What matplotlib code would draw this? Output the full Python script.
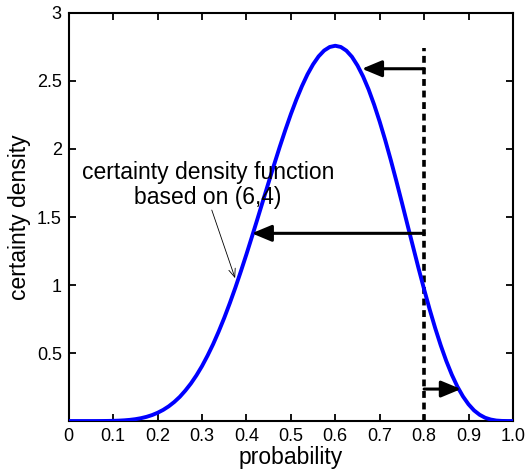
import matplotlib.pyplot as plt

plt.rcParams['font.family'] = ['Liberation Sans', 'DejaVu Sans']

# certainty density curve (step 0.0125)
prob = [i * 0.0125 for i in range(81)]
density = [0.0, 0.0, 0.0, 0.0, 0.0, 0.0001, 0.0003, 0.0007,
           0.0015, 0.0029, 0.0052, 0.0086, 0.0137, 0.0209, 0.0307, 0.0437,
           0.0606, 0.0818, 0.108, 0.140, 0.178, 0.224, 0.276, 0.336,
           0.404, 0.481, 0.565, 0.658, 0.758, 0.866, 0.980, 1.101,
           1.226, 1.356, 1.488, 1.622, 1.755, 1.887, 2.016, 2.139,
           2.256, 2.364, 2.462, 2.549, 2.622, 2.681, 2.724, 2.750,
           2.759, 2.750, 2.723, 2.678, 2.614, 2.534, 2.438, 2.326,
           2.201, 2.065, 1.919, 1.765, 1.606, 1.444, 1.283, 1.123,
           0.969, 0.821, 0.683, 0.556, 0.441, 0.340, 0.253, 0.181,
           0.123, 0.078, 0.046, 0.024, 0.011, 0.0036, 0.0008, 0.0001, 0.0]

# vertical threshold and horizontal arrows
threshold = 0.8
threshold_top = 2.74
arrow_y = [2.59, 1.38, 0.235]
arrow_tip = [0.66, 0.412, 0.883]

xticks = [0, 0.1, 0.2, 0.3, 0.4, 0.5, 0.6, 0.7, 0.8, 0.9, 1.0]
xtick_labels = ['0', '0.1', '0.2', '0.3', '0.4', '0.5', '0.6', '0.7', '0.8', '0.9', '1.0']
yticks = [0.5, 1, 1.5, 2, 2.5, 3]
ytick_labels = ['0.5', '1', '1.5', '2', '2.5', '3']

fig = plt.figure(figsize=(5.25, 4.72), dpi=100)
ax = fig.add_axes([0.131, 0.108, 0.846, 0.8645])

ax.plot(prob, density, color=(0, 0, 1), lw=2.8, solid_joinstyle='round', zorder=3)
ax.plot([threshold, threshold], [0, threshold_top], color='k', lw=2.6,
        linestyle=(0, (1.9, 1.3)), zorder=2)

for y, tip in zip(arrow_y, arrow_tip):
    ax.annotate('', xy=(tip, y), xytext=(threshold, y),
                arrowprops=dict(arrowstyle='-|>,head_length=1.2,head_width=0.5',
                                color='k', lw=2.2, shrinkA=0, shrinkB=0,
                                mutation_scale=10),
                zorder=4)

ax.text(0.313, 1.737, 'certainty density function\nbased on (6,4)', ha='center',
        va='center', fontsize=16.5, linespacing=1.1)
ax.annotate('', xy=(0.3745, 1.05), xytext=(0.322, 1.551),
            arrowprops=dict(arrowstyle='->,head_length=0.5,head_width=0.2',
                            color='k', lw=0.6, shrinkA=0, shrinkB=0,
                            mutation_scale=12))

ax.set_xlim(0, 1)
ax.set_ylim(0, 3)
ax.set_xticks(xticks)
ax.set_xticklabels(xtick_labels)
ax.set_yticks(yticks)
ax.set_yticklabels(ytick_labels)
ax.tick_params(direction='in', top=True, right=True, length=5, width=1.3,
               labelsize=13, pad=5)
for s in ax.spines.values():
    s.set_linewidth(1.5)

ax.set_xlabel('probability', fontsize=16.5, labelpad=1)
ax.set_ylabel('certainty density', fontsize=16.5, labelpad=4)

fig.savefig('out.png', dpi=100)
